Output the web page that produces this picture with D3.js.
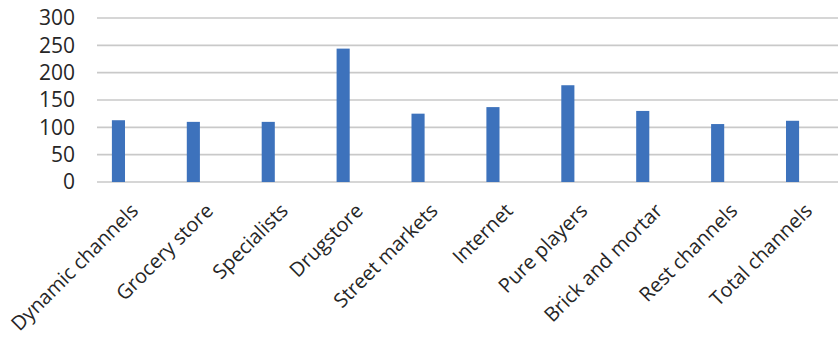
<!DOCTYPE html>
<html>
<head>
<meta charset="utf-8">
<script src="https://cdn.jsdelivr.net/npm/d3@7"></script>
<style>
  html, body { margin: 0; padding: 0; background: #fff; }
  svg { display: block; }
  text { font-family: "Open Sans", "Liberation Sans", sans-serif; fill: #262626; }
</style>
</head>
<body>
<svg id="chart" width="838" height="337"></svg>
<script>
// Channel index values
const categories = ["Dynamic channels", "Grocery store", "Specialists", "Drugstore",
  "Street markets", "Internet", "Pure players", "Brick and mortar", "Rest channels", "Total channels"];
const values = [113, 110, 110, 244, 125, 137, 177, 130, 106, 112];
const yTicks = [0, 50, 100, 150, 200, 250, 300];

const svg = d3.select("#chart");
const W = 838, H = 337;
const plot = { left: 97, right: 838, top: 18, bottom: 182 };

const x = d3.scaleBand()
  .domain(categories)
  .range([81, 830])
  .paddingInner(0.825)
  .paddingOuter(0.4125);

const y = d3.scaleLinear().domain([0, 300]).range([plot.bottom, plot.top]);

// Horizontal gridlines
svg.append("g")
  .selectAll("line")
  .data(yTicks)
  .join("line")
  .attr("x1", plot.left)
  .attr("x2", plot.right)
  .attr("y1", d => y(d))
  .attr("y2", d => y(d))
  .attr("stroke", "#c9c9c9")
  .attr("stroke-width", 1.6);

// Y-axis labels
const yAxis = d3.axisLeft(y).tickValues(yTicks).tickSize(0).tickPadding(0);
const gy = svg.append("g").attr("transform", "translate(75,0)").call(yAxis);
gy.select(".domain").remove();
gy.selectAll("text")
  .attr("font-size", 21)
  .attr("fill", "#262626")
  .style("font-family", "\"Open Sans\", sans-serif");

// Bars
svg.append("g")
  .selectAll("rect")
  .data(values)
  .join("rect")
  .attr("x", (d, i) => x(categories[i]))
  .attr("width", x.bandwidth())
  .attr("y", d => y(d))
  .attr("height", d => y(0) - y(d))
  .attr("fill", "#3d72bc");

// Rotated category labels
const xAxis = d3.axisBottom(x).tickSize(0).tickPadding(0);
const gx = svg.append("g").attr("transform", `translate(0,${plot.bottom})`).call(xAxis);
gx.select(".domain").remove();
gx.selectAll("text")
  .attr("font-size", 20)
  .attr("fill", "#262626")
  .style("font-family", "\"Open Sans\", sans-serif")
  .attr("text-anchor", "end")
  .attr("dy", null)
  .attr("y", null)
  .attr("transform", "translate(21,30) rotate(-45)");
</script>
</body>
</html>
